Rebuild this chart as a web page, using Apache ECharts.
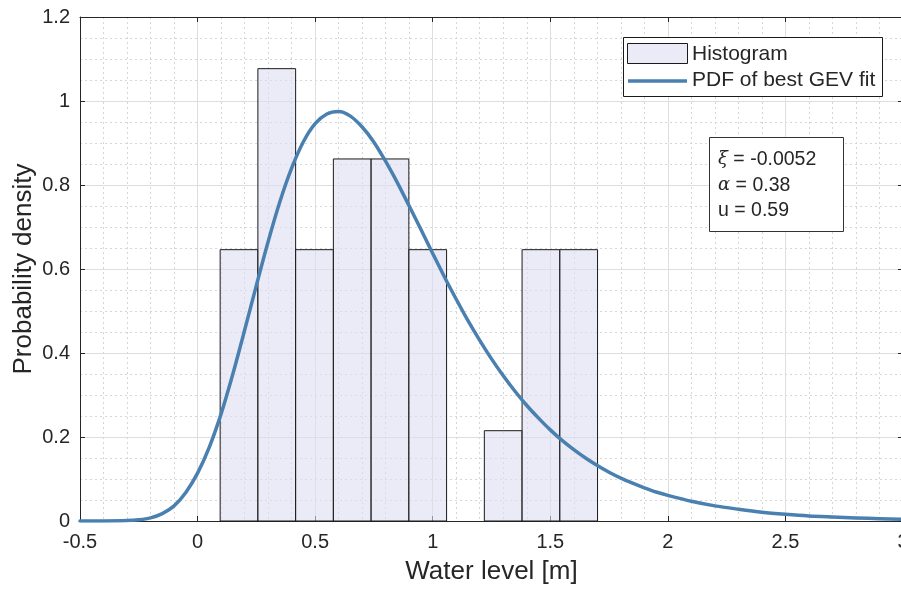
<!DOCTYPE html>
<html lang="en">

<head>
    <meta charset="UTF-8">
    <title>GEV fit</title>
    <script src="https://cdn.jsdelivr.net/npm/echarts@6/dist/echarts.min.js"></script>
    <style>
        * {
            margin: 0;
            padding: 0;
        }

        #chart {
            width: 901px;
            height: 592px;
            background: #fff;
        }
    </style>
</head>

<body>
    <div id="chart"></div>
    <script>
        // histogram bins (left/right edges) and density heights
        const binLeft = [0.096, 0.2565, 0.417, 0.5775, 0.738, 0.8985, 1.059, 1.2195, 1.38, 1.5405]
        const binRight = [0.2565, 0.417, 0.5775, 0.738, 0.8985, 1.059, 1.2195, 1.38, 1.5405, 1.701]
        const density = [0.646, 1.077, 0.646, 0.862, 0.862, 0.646, 0, 0.215, 0.646, 0.646]

        // fitted pdf
        const pdfX = [-0.5, -0.4, -0.3, -0.25, -0.2, -0.15, -0.1, -0.05, 0, 0.05, 0.1, 0.15, 0.2, 0.25, 0.3,
            0.35, 0.4, 0.45, 0.5, 0.55, 0.6, 0.65, 0.7, 0.75, 0.8, 0.85, 0.9, 0.95, 1.0, 1.05, 1.1, 1.15, 1.2,
            1.25, 1.3, 1.35, 1.4, 1.45, 1.5, 1.55, 1.6, 1.65, 1.7, 1.75, 1.8, 1.85, 1.9, 1.95, 2.0,
            2.1, 2.2, 2.3, 2.4, 2.5, 2.6, 2.7, 2.8, 2.9, 3.0]
        const pdfY = [0, 0.0001, 0.001, 0.003, 0.0075, 0.0175, 0.036, 0.068, 0.114, 0.176, 0.255, 0.350, 0.454,
            0.561, 0.665, 0.760, 0.840, 0.903, 0.946, 0.969, 0.975, 0.964, 0.938, 0.902, 0.856, 0.805, 0.750,
            0.694, 0.637, 0.581, 0.528, 0.477, 0.430, 0.386, 0.346, 0.309, 0.275, 0.245, 0.217, 0.192, 0.170,
            0.150, 0.132, 0.116, 0.102, 0.090, 0.079, 0.069, 0.061,
            0.047, 0.036, 0.028, 0.021, 0.016, 0.012, 0.0095, 0.0073, 0.0056, 0.0043]

        const xTicks = ['-0.5', '0', '0.5', '1', '1.5', '2', '2.5', '3']
        const yTicks = ['0', '0.2', '0.4', '0.6', '0.8', '1', '1.2']

        const fontName = "'Liberation Sans', Arial, sans-serif"
        const ink = '#262626'

        const chart = echarts.init(document.getElementById('chart'))

        const histData = binLeft.map((l, i) => [l, binRight[i], density[i]])
        const lineData = pdfX.map((x, i) => [x, pdfY[i]])

        const mainX = {
            type: 'value', min: -0.5, max: 3, interval: 0.5,
            axisLine: { onZero: false, lineStyle: { color: ink, width: 1 } },
            axisTick: { inside: true, length: 5, lineStyle: { color: ink } },
            axisLabel: {
                color: ink, fontSize: 20, fontFamily: fontName, margin: 11,
                formatter: v => xTicks[Math.round((v + 0.5) / 0.5)]
            },
            splitLine: { show: true, lineStyle: { color: '#dedede', width: 1 } },
            minorTick: { show: false, splitNumber: 5 },
            minorSplitLine: { show: true, lineStyle: { color: '#d6d6d6', type: [2, 3], width: 1 } },
            name: 'Water level [m]', nameLocation: 'middle', nameGap: 38,
            nameTextStyle: { color: ink, fontSize: 26, fontFamily: fontName }
        }
        const mainY = {
            type: 'value', min: 0, max: 1.2, interval: 0.2,
            axisLine: { show: true, onZero: false, lineStyle: { color: ink, width: 1 } },
            axisTick: { show: true, inside: true, length: 5, lineStyle: { color: ink } },
            axisLabel: {
                color: ink, fontSize: 20, fontFamily: fontName, margin: 10,
                formatter: v => yTicks[Math.round(v / 0.2)]
            },
            splitLine: { show: true, lineStyle: { color: '#dedede', width: 1 } },
            minorTick: { show: false, splitNumber: 4 },
            minorSplitLine: { show: true, lineStyle: { color: '#d6d6d6', type: [2, 3], width: 1 } },
            name: 'Probability density', nameLocation: 'middle', nameGap: 43, nameMoveOverlap: false,
            nameTextStyle: { color: ink, fontSize: 26, fontFamily: fontName }
        }

        const option = {
            backgroundColor: '#fff',
            animation: false,
            grid: { left: 80, top: 17, width: 823, height: 504, outerBoundsMode: 'none' },
            xAxis: [mainX, {
                type: 'value', min: -0.5, max: 3, interval: 0.5, position: 'top',
                axisLine: { onZero: false, lineStyle: { color: ink } },
                axisTick: { inside: true, length: 5, lineStyle: { color: ink } },
                axisLabel: { show: false }, splitLine: { show: false }
            }],
            yAxis: [mainY, {
                type: 'value', min: 0, max: 1.2, interval: 0.2, position: 'right',
                axisLine: { show: true, onZero: false, lineStyle: { color: ink } },
                axisTick: { show: true, inside: true, length: 5, lineStyle: { color: ink } },
                axisLabel: { show: false }, splitLine: { show: false }
            }],
            series: [{
                name: 'Histogram',
                type: 'custom',
                data: histData,
                encode: { x: [0, 1], y: 2 },
                renderItem: function (params, api) {
                    if (api.value(2) <= 0) return
                    const p0 = api.coord([api.value(0), api.value(2)])
                    const p1 = api.coord([api.value(1), 0])
                    return {
                        type: 'rect',
                        shape: { x: p0[0], y: p0[1], width: p1[0] - p0[0], height: p1[1] - p0[1] },
                        style: { fill: 'rgba(222,222,242,0.6)', stroke: '#1a1a1a', lineWidth: 1 }
                    }
                },
                z: 2
            }, {
                name: 'PDF of best GEV fit',
                type: 'line',
                data: lineData,
                smooth: 0.3,
                showSymbol: false,
                lineStyle: { color: '#4a80b0', width: 3.5, cap: 'round', join: 'round' },
                z: 3
            }],
            graphic: [
                // legend
                {
                    type: 'rect', left: 623, top: 37, z: 10,
                    shape: { width: 259, height: 59 },
                    style: { fill: '#fff', stroke: '#1a1a1a', lineWidth: 1 }
                },
                {
                    type: 'rect', left: 627, top: 43, z: 11,
                    shape: { width: 60, height: 20 },
                    style: { fill: '#ebebf7', stroke: '#1a1a1a', lineWidth: 1 }
                },
                {
                    type: 'line', z: 11,
                    shape: { x1: 628, y1: 81, x2: 687, y2: 81 },
                    style: { stroke: '#4a80b0', lineWidth: 3.5 }
                },
                {
                    type: 'text', left: 692, top: 44, z: 11,
                    style: { text: 'Histogram', fill: ink, font: '21px ' + fontName }
                },
                {
                    type: 'text', left: 692, top: 70, z: 11,
                    style: { text: 'PDF of best GEV fit', fill: ink, font: '21px ' + fontName }
                },
                // parameter box
                {
                    type: 'rect', left: 709, top: 137, z: 10,
                    shape: { width: 134, height: 94 },
                    style: { fill: '#fff', stroke: '#333', lineWidth: 1 }
                },
                {
                    type: 'text', left: 718, top: 147, z: 11,
                    style: {
                        text: '{g|ξ} = -0.0052\n{g|α} = 0.38\nu = 0.59',
                        fill: ink, font: '19.5px ' + fontName, lineHeight: 25.5,
                        rich: { g: { fontStyle: 'italic', fontFamily: "'DejaVu Serif', serif", fontSize: 18 } }
                    }
                }
            ]
        }

        chart.setOption(option)
    </script>
</body>

</html>
